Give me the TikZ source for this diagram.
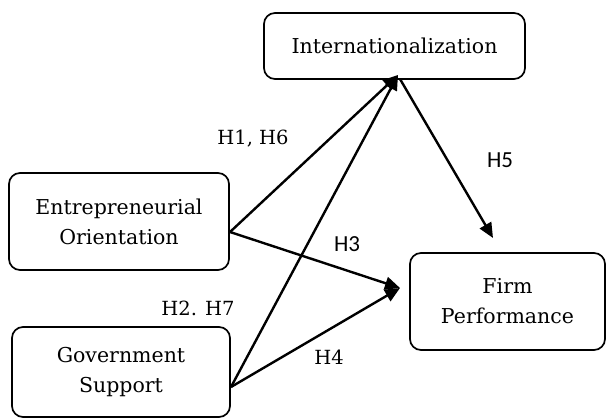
\documentclass[tikz,border=0pt]{standalone}
\usepackage{fontspec}
\setmainfont{DejaVu Serif}
\newfontfamily\labsans{Carlito}
\usetikzlibrary{arrows.meta}
\tikzset{
  box/.style={draw, line width=1.7pt, rounded corners=11pt, align=center,
    inner sep=0pt, font=\fontsize{20.5}{30}\selectfont},
  link/.style={line width=2.4pt, -{Triangle[length=15pt,width=13pt]}},
  serlab/.style={anchor=base, font=\fontsize{19.5}{22}\selectfont},
  sanlab/.style={anchor=base, font=\labsans\fontsize{23}{26}\selectfont}
}
\begin{document}
\begin{tikzpicture}[x=1pt,y=-1pt]
\useasboundingbox (0,0) rectangle (606,419);
\node[box, minimum width=261pt, minimum height=66pt] (int) at (394.5,46) {Internationalization};
\node[box, minimum width=220pt, minimum height=97pt] (eo) at (119,221.5) {Entrepreneurial\\Orientation};
\node[box, minimum width=218pt, minimum height=90pt] (gs) at (121,372) {Government\\Support};
\node[box, minimum width=195pt, minimum height=97pt] (fp) at (507.5,301.5) {Firm\\Performance};
\coordinate (eoOut) at (230,232);
\coordinate (gsOut) at (231,387);
\coordinate (intIn) at (398,75);
\coordinate (intOut) at (400,79);
\coordinate (fpTop) at (493,238);
\coordinate (fpLeft) at (400,288);
\draw[link] (eoOut) -- (intIn);
\draw[link] (gsOut) -- (intIn);
\draw[link] (eoOut) -- (fpLeft);
\draw[link] (gsOut) -- (fpLeft);
\draw[link] (intOut) -- (fpTop);
\node[serlab] (h1) at (253,145) {H1, H6};
\node[sanlab] (h5) at (500,168) {H5};
\node[sanlab] (h3) at (347,252) {H3};
\node[serlab] (h2) at (198,316) {H2. H7};
\node[serlab] (h4) at (329,365) {H4};
\end{tikzpicture}
\end{document}
